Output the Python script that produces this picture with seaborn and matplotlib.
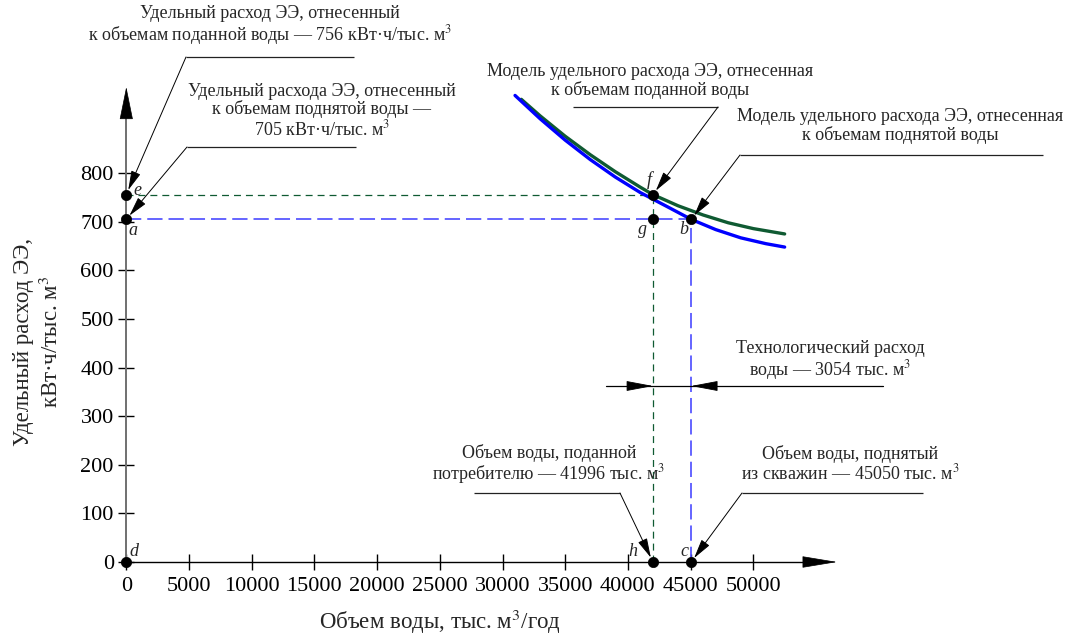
import numpy as np
import pandas as pd
import matplotlib
matplotlib.use("Agg")
import matplotlib.pyplot as plt
import seaborn as sns

# ---- data -----------------------------------------------------------------
# model of specific energy use, related to supplied water (green)
supplied_volume = [31500, 33000, 35000, 37000, 39000, 41000, 41996, 44000, 46000, 48000, 50000, 52500]
supplied_spec = [952, 918, 876, 838, 803, 771, 756, 733, 714, 698, 686, 675]
# model of specific energy use, related to lifted water (blue)
lifted_volume = [31000, 33000, 35000, 37000, 39000, 41000, 43000, 45050, 47000, 49000, 51000, 52500]
lifted_spec = [960, 912, 868, 828, 792, 760, 733, 705, 684, 667, 655, 648]

supplied_total = 41996   # тыс. м3 delivered to consumers
lifted_total = 45050     # тыс. м3 lifted from wells
tech_loss = 3054         # тыс. м3
spec_supplied = 756      # кВт·ч/тыс. м3
spec_lifted = 705        # кВт·ч/тыс. м3

x_ticks = [0, 5000, 10000, 15000, 20000, 25000, 30000, 35000, 40000, 45000, 50000]
y_ticks = [0, 100, 200, 300, 400, 500, 600, 700, 800]

point_names = ["d", "e", "a", "f", "g", "b", "h", "c"]
point_x = [0, 0, 0, supplied_total, supplied_total, lifted_total, supplied_total, lifted_total]
point_y = [0, spec_supplied, spec_lifted, spec_supplied, spec_lifted, spec_lifted, 0, 0]

# ---- style ----------------------------------------------------------------
sns.set_theme(style="white")
plt.rcParams["font.family"] = ["Liberation Serif", "DejaVu Serif"]
plt.rcParams["mathtext.fontset"] = "stix"
plt.rcParams["lines.scale_dashes"] = False

W, H = 1079, 639
fig = plt.figure(figsize=(W / 100, H / 100), dpi=100)
ax = fig.add_axes([0, 0, 1, 1])

# page layout: origin position and scale in pixels
X0, Y0 = 126.3, 562.0
SX, SY = 62.7 / 5000, 48.6 / 100
ax.set_xlim(-X0 / SX, (W - X0) / SX)
ax.set_ylim((Y0 - H) / SY, Y0 / SY)


def to_data(px, py):
    return (px - X0) / SX, (Y0 - py) / SY


GREEN = "#0f5a32"
BLUE = "#0000ff"

# ---- axes with arrows -----------------------------------------------------
for s in ["top", "right"]:
    ax.spines[s].set_visible(False)
ax.spines["left"].set_position(("data", 0))
ax.spines["bottom"].set_position(("data", 0))
y_arrow_base, y_arrow_tip = to_data(0, 117)[1], to_data(0, 87)[1]
x_arrow_base, x_arrow_tip = to_data(805, 0)[0], to_data(837, 0)[0]
ax.spines["left"].set_bounds(0, y_arrow_base)
ax.spines["bottom"].set_bounds(0, x_arrow_base)
ax.spines["left"].set_color("#707070")
ax.spines["left"].set_linewidth(1.4)
ax.spines["bottom"].set_color("black")
ax.spines["bottom"].set_linewidth(1.0)
ax.annotate("", xy=(0, y_arrow_tip), xytext=(0, y_arrow_base),
            arrowprops=dict(arrowstyle="-|>,head_length=21.6,head_width=4.4",
                            mutation_scale=1, color="black", lw=0.5,
                            shrinkA=0, shrinkB=0))
ax.annotate("", xy=(x_arrow_tip, 0), xytext=(x_arrow_base, 0),
            arrowprops=dict(arrowstyle="-|>,head_length=23,head_width=3.8",
                            mutation_scale=1, color="black", lw=0.5,
                            shrinkA=0, shrinkB=0))

ax.set_xticks(x_ticks)
ax.set_yticks(y_ticks)
ax.set_xticklabels([str(v) for v in x_ticks])
ax.set_yticklabels([str(v) for v in y_ticks])
ax.tick_params(axis="both", direction="inout", length=12, width=1,
               color="black", labelsize=16, labelcolor="black", pad=3,
               bottom=True, left=True)
ax.tick_params(axis="x", pad=5)
ax.grid(False)

# ---- guide lines ----------------------------------------------------------
ax.plot([0, supplied_total], [spec_supplied, spec_supplied], color=GREEN, lw=0.9,
        dashes=(5, 3.6), zorder=2)
ax.plot([supplied_total, supplied_total], [0, spec_supplied], color=GREEN, lw=0.9,
        dashes=(5, 3.6), zorder=2)
ax.plot([0, lifted_total], [spec_lifted, spec_lifted], color="#4a4aff", lw=1.2,
        dashes=(11, 4.3), zorder=2)
ax.plot([lifted_total, lifted_total], [0, spec_lifted], color="#4a4aff", lw=1.2,
        dashes=(11, 4.3), zorder=2)

# ---- model curves ---------------------------------------------------------
curves = pd.concat([
    pd.DataFrame({"volume": supplied_volume, "spec": supplied_spec, "model": "supplied"}),
    pd.DataFrame({"volume": lifted_volume, "spec": lifted_spec, "model": "lifted"}),
])
sns.lineplot(data=curves, x="volume", y="spec", hue="model",
             palette={"supplied": GREEN, "lifted": BLUE}, estimator=None,
             sort=True, linewidth=2.4, legend=False, ax=ax, zorder=3)
ax.set_xlabel("")
ax.set_ylabel("")

# ---- points ---------------------------------------------------------------
sns.scatterplot(x=point_x, y=point_y, color="black", s=55, edgecolor="black",
                linewidth=0.5, ax=ax, zorder=6, legend=False)
label_offsets = {"d": (8, 10), "e": (11, 4), "a": (7, -11), "f": (-4, 15),
                 "g": (-10, -10), "b": (-7, -10), "h": (-20, 10), "c": (-7, 10)}
for name, px, py in zip(point_names, point_x, point_y):
    ox, oy = label_offsets[name]
    ax.annotate(name, xy=(px, py), xytext=(ox, oy), textcoords="offset pixels",
                ha="center", va="center", fontsize=13, fontstyle="italic")


# ---- callouts -------------------------------------------------------------
def callout(text, target, corner, shelf_end, text_xy):
    cx, cy = to_data(*corner)
    ex, ey = to_data(*shelf_end)
    ax.plot([cx, ex], [cy, ey], color="#222222", lw=0.9, solid_capstyle="butt", zorder=4)
    ax.annotate("", xy=target, xytext=(cx, cy),
                arrowprops=dict(arrowstyle="-|>,head_length=12,head_width=3.0",
                                mutation_scale=1, color="black", lw=0.7,
                                shrinkA=0, shrinkB=3.5), zorder=5)
    tx, ty = to_data(*text_xy)
    ax.text(tx, ty, text, ha="center", va="center", fontsize=13, linespacing=1.05)


M3 = "м$^3$"
callout("Удельный расход ЭЭ, отнесенный\n"
        f"к объемам поданной воды — {spec_supplied} кВт·ч/тыс. {M3}",
        (0, spec_supplied), (186, 57), (354, 57), (270, 26))
callout("Удельный расхода ЭЭ, отнесенный\nк объемам поднятой воды —\n"
        f"{spec_lifted} кВт·ч/тыс. {M3}",
        (0, spec_lifted), (187, 147), (356, 147), (322, 111))
callout("Модель удельного расхода ЭЭ, отнесенная\nк объемам поданной воды",
        (supplied_total, spec_supplied), (718, 107), (573, 107), (650, 81))
callout("Модель удельного расхода ЭЭ, отнесенная\nк объемам поднятой воды",
        (lifted_total, spec_lifted), (740, 155), (1043, 155), (900, 126))
callout(f"Объем воды, поданной\nпотребителю — {supplied_total} тыс. {M3}",
        (supplied_total, 0), (620, 493), (474, 493), (549, 465))
callout(f"Объем воды, поднятый\nиз скважин — {lifted_total} тыс. {M3}",
        (lifted_total, 0), (742, 493), (923, 493), (850, 464))

# technological loss dimension
dim_y = to_data(0, 386)[1]
dim_left = supplied_total - 3750
dim_right = lifted_total + 15300
ax.plot([dim_left, dim_right], [dim_y, dim_y], color="black", lw=0.9, zorder=4)
head = dict(arrowstyle="-|>,head_length=17,head_width=3.2", mutation_scale=1,
            color="black", lw=0.6, shrinkA=0, shrinkB=0)
ax.annotate("", xy=(supplied_total, dim_y), xytext=(supplied_total - 1950, dim_y),
            arrowprops=head, zorder=5)
ax.annotate("", xy=(lifted_total, dim_y), xytext=(lifted_total + 1950, dim_y),
            arrowprops=head, zorder=5)
tx, ty = to_data(830, 361)
ax.text(tx, ty, f"Технологический расход\nводы — {tech_loss} тыс. {M3}",
        ha="center", va="center", fontsize=13, linespacing=1.05)

# ---- axis titles ----------------------------------------------------------
fig.text(440 / W, 1 - 622 / H, "Объем воды, тыс. м$^3$/год", ha="center",
         va="center", fontsize=16.5)
fig.text(38 / W, 1 - 342 / H, "Удельный расход ЭЭ,\nкВт·ч/тыс. м$^3$", ha="center",
         va="center", fontsize=16.5, rotation=90, linespacing=1.3)

fig.savefig("out.png", dpi=100)
